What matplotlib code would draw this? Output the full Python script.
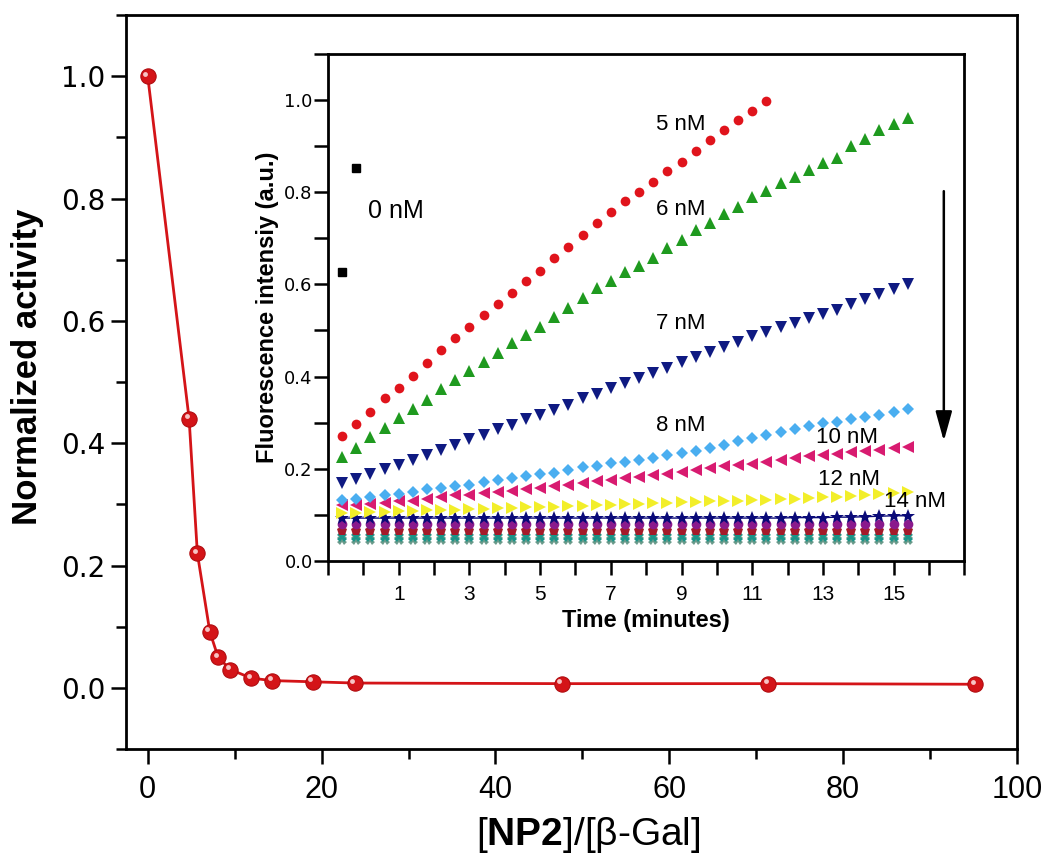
import matplotlib
matplotlib.use('Agg')
import matplotlib.pyplot as plt
from matplotlib.transforms import offset_copy
from matplotlib.ticker import MultipleLocator, FixedLocator

plt.rcParams['font.family'] = 'Liberation Sans'
plt.rcParams['mathtext.fontset'] = 'custom'
plt.rcParams['mathtext.rm'] = 'Liberation Sans'
plt.rcParams['mathtext.bf'] = 'Liberation Sans:bold'

# main plot: normalized activity vs [NP2]/[b-Gal]
ratio = [0, 4.76, 5.71, 7.14, 8.1, 9.52, 11.9, 14.3, 19.0, 23.8, 47.6, 71.4, 95.2]
activity = [1.0, 0.44, 0.22, 0.092, 0.05, 0.03, 0.016, 0.012, 0.01, 0.008, 0.007, 0.007, 0.006]

# inset: fluorescence vs time
time = [-0.6, -0.2, 0.2, 0.6, 1.0, 1.4, 1.8, 2.2, 2.6, 3.0,
        3.4, 3.8, 4.2, 4.6, 5.0, 5.4, 5.8, 6.2, 6.6, 7.0,
        7.4, 7.8, 8.2, 8.6, 9.0, 9.4, 9.8, 10.2, 10.6, 11.0,
        11.4, 11.8, 12.2, 12.6, 13.0, 13.4, 13.8, 14.2, 14.6, 15.0,
        15.4]
f_0nM = [0.626, 0.853]
f_5nM = [0.272, 0.298, 0.324, 0.353, 0.376, 0.402, 0.430, 0.457, 0.483, 0.508,
         0.533, 0.558, 0.581, 0.607, 0.629, 0.657, 0.681, 0.707, 0.734, 0.757,
         0.781, 0.800, 0.822, 0.846, 0.866, 0.890, 0.914, 0.935, 0.956, 0.975,
         0.997]
f_6nM = [0.226, 0.246, 0.268, 0.288, 0.311, 0.329, 0.350, 0.373, 0.392, 0.411,
         0.432, 0.451, 0.472, 0.490, 0.508, 0.528, 0.548, 0.570, 0.591, 0.607,
         0.627, 0.640, 0.658, 0.678, 0.696, 0.717, 0.734, 0.753, 0.768, 0.790,
         0.802, 0.819, 0.833, 0.847, 0.862, 0.874, 0.900, 0.916, 0.935, 0.948,
         0.961]
f_7nM = [0.168, 0.178, 0.189, 0.199, 0.209, 0.219, 0.230, 0.241, 0.252, 0.264,
         0.274, 0.286, 0.295, 0.308, 0.317, 0.328, 0.339, 0.353, 0.362, 0.375,
         0.386, 0.396, 0.407, 0.418, 0.431, 0.443, 0.453, 0.464, 0.475, 0.488,
         0.496, 0.508, 0.516, 0.527, 0.535, 0.545, 0.557, 0.569, 0.579, 0.589,
         0.600]
f_8nM = [0.133, 0.134, 0.138, 0.142, 0.145, 0.149, 0.155, 0.158, 0.162, 0.165,
         0.171, 0.175, 0.179, 0.184, 0.189, 0.191, 0.198, 0.203, 0.207, 0.212,
         0.215, 0.220, 0.224, 0.230, 0.234, 0.239, 0.245, 0.251, 0.261, 0.266,
         0.273, 0.280, 0.286, 0.292, 0.299, 0.302, 0.308, 0.313, 0.316, 0.322,
         0.329]
f_10nM = [0.122, 0.122, 0.124, 0.126, 0.129, 0.131, 0.134, 0.138, 0.142, 0.144,
          0.147, 0.149, 0.152, 0.156, 0.159, 0.163, 0.165, 0.168, 0.173, 0.176,
          0.179, 0.183, 0.186, 0.189, 0.192, 0.198, 0.201, 0.205, 0.208, 0.210,
          0.214, 0.220, 0.223, 0.228, 0.230, 0.232, 0.236, 0.239, 0.241, 0.244,
          0.248]
f_12nM = [0.105, 0.105, 0.106, 0.107, 0.108, 0.109, 0.110, 0.110, 0.111, 0.112,
          0.113, 0.114, 0.115, 0.116, 0.117, 0.118, 0.119, 0.120, 0.121, 0.122,
          0.123, 0.124, 0.125, 0.126, 0.127, 0.128, 0.129, 0.130, 0.131, 0.132,
          0.133, 0.134, 0.135, 0.137, 0.138, 0.139, 0.141, 0.143, 0.145, 0.147,
          0.149]
f_14nM = [0.093, 0.093, 0.093, 0.093, 0.093, 0.093, 0.093, 0.093, 0.093, 0.093,
          0.093, 0.093, 0.093, 0.093, 0.093, 0.093, 0.093, 0.093, 0.093, 0.093,
          0.093, 0.093, 0.093, 0.093, 0.093, 0.093, 0.093, 0.093, 0.093, 0.093,
          0.093, 0.093, 0.094, 0.094, 0.094, 0.095, 0.095, 0.096, 0.097, 0.098,
          0.098]
f_16nM = [0.080, 0.080, 0.080, 0.080, 0.080, 0.080, 0.080, 0.080, 0.080, 0.080,
          0.080, 0.080, 0.080, 0.080, 0.080, 0.080, 0.080, 0.080, 0.080, 0.080,
          0.080, 0.080, 0.080, 0.080, 0.080, 0.080, 0.080, 0.080, 0.080, 0.080,
          0.080, 0.080, 0.080, 0.080, 0.080, 0.080, 0.080, 0.080, 0.080, 0.080,
          0.080]
f_18nM = [0.066, 0.066, 0.066, 0.066, 0.066, 0.066, 0.066, 0.066, 0.066, 0.066,
          0.066, 0.066, 0.066, 0.066, 0.066, 0.066, 0.066, 0.066, 0.066, 0.066,
          0.066, 0.066, 0.066, 0.066, 0.066, 0.066, 0.066, 0.066, 0.066, 0.066,
          0.066, 0.066, 0.066, 0.066, 0.066, 0.066, 0.066, 0.066, 0.066, 0.066,
          0.066]
f_20nM = [0.053, 0.053, 0.053, 0.053, 0.053, 0.053, 0.053, 0.053, 0.053, 0.053,
          0.053, 0.053, 0.053, 0.053, 0.053, 0.053, 0.053, 0.053, 0.053, 0.053,
          0.053, 0.053, 0.053, 0.053, 0.053, 0.053, 0.053, 0.053, 0.053, 0.053,
          0.053, 0.053, 0.053, 0.053, 0.053, 0.053, 0.053, 0.053, 0.053, 0.053,
          0.053]
f_24nM = [0.045, 0.045, 0.045, 0.045, 0.045, 0.045, 0.045, 0.045, 0.045, 0.045,
          0.045, 0.045, 0.045, 0.045, 0.045, 0.045, 0.045, 0.045, 0.045, 0.045,
          0.045, 0.045, 0.045, 0.045, 0.045, 0.045, 0.045, 0.045, 0.045, 0.045,
          0.045, 0.045, 0.045, 0.045, 0.045, 0.045, 0.045, 0.045, 0.045, 0.045,
          0.045]

fig = plt.figure(figsize=(10.5, 8.67), dpi=100)
ax = fig.add_axes([0.12, 0.136, 0.8486, 0.8466])

ax.plot(ratio, activity, '-', color='#d41418', lw=2, zorder=2)
ax.plot(ratio, activity, 'o', color='#d41418', ms=11, mec='#b00c10', mew=0.8, zorder=3)
hl = offset_copy(ax.transData, fig=fig, x=-2.5, y=2.5, units='dots')
ax.plot(ratio, activity, 'o', color='#f7c4c4', ms=3.5, mew=0, transform=hl, zorder=4)

ax.set_xlim(-2.5, 100)
ax.set_ylim(-0.1, 1.1)
ax.xaxis.set_major_locator(MultipleLocator(20))
ax.xaxis.set_minor_locator(MultipleLocator(10))
ax.yaxis.set_major_locator(FixedLocator([0.0, 0.2, 0.4, 0.6, 0.8, 1.0]))
ax.yaxis.set_minor_locator(MultipleLocator(0.1))
ax.tick_params(which='major', direction='out', length=11, width=1.8)
ax.tick_params(which='minor', direction='out', length=7, width=1.8)
ax.tick_params(axis='x', labelsize=22, pad=8)
ax.tick_params(axis='y', labelsize=20, pad=4)
for lab in ax.get_yticklabels():
    lab.set_fontfamily('DejaVu Sans')
ax.set_yticks([0.0, 0.2, 0.4, 0.6, 0.8, 1.0])
ax.set_yticklabels(['0.0', '0.2', '0.4', '0.6', '0.8', '1.0'], fontfamily='DejaVu Sans')
for sp in ax.spines.values():
    sp.set_linewidth(2)

fig.text(0.026, 0.577, 'Normalized activity', rotation=90, ha='center', va='center',
         fontsize=25, fontweight='bold')
fig.text(0.56, 0.037, r'[$\mathbf{NP2}$]/[β-Gal]', ha='center', va='center', fontsize=28)

# inset
ins = fig.add_axes([0.3124, 0.353, 0.606, 0.585])
ins.set_facecolor('white')
ins.plot(time[:2], f_0nM, 's', color='black', ms=5.5)
ins.plot(time[:31], f_5nM, 'o', color='#e0141c', ms=7, mew=0)
ins.plot(time, f_6nM, '^', color='#1f9a1f', ms=8, mew=0)
ins.plot(time, f_7nM, 'v', color='#0f1a82', ms=8, mew=0)
ins.plot(time, f_24nM, 'X', color='#6a9a8a', ms=7, mew=0)
ins.plot(time, f_20nM, 'X', color='#1a9488', ms=7, mew=0)
ins.plot(time, f_18nM, 'p', color='#a31a2a', ms=7, mew=0)
ins.plot(time, f_16nM, 'o', color='#8a1a8c', ms=7, mew=0)
ins.plot(time, f_14nM, '-', color='#0a0a78', lw=1)
ins.plot(time, f_14nM, '*', color='#0a0a78', ms=10, mew=0)
ins.plot(time, f_12nM, '>', color='#f2ee2a', ms=8, mew=0)
ins.plot(time, f_10nM, '<', color='#d81b70', ms=8, mew=0)
ins.plot(time, f_8nM, 'D', color='#4aaef0', ms=6.5, mew=0)

ins.set_xlim(-1, 17)
ins.set_ylim(0, 1.1)
ins.xaxis.set_major_locator(FixedLocator([1, 3, 5, 7, 9, 11, 13, 15]))
ins.xaxis.set_minor_locator(MultipleLocator(1))
ins.yaxis.set_major_locator(FixedLocator([0.0, 0.2, 0.4, 0.6, 0.8, 1.0]))
ins.yaxis.set_minor_locator(MultipleLocator(0.1))
ins.tick_params(which='both', direction='out', length=10, width=1.8)
ins.tick_params(axis='x', labelsize=15, pad=7)
ins.tick_params(axis='y', labelsize=13, pad=1)
ins.set_yticks([0.0, 0.2, 0.4, 0.6, 0.8, 1.0])
ins.set_yticklabels(['0.0', '0.2', '0.4', '0.6', '0.8', '1.0'], fontfamily='DejaVu Sans')
for sp in ins.spines.values():
    sp.set_linewidth(2)
ins.set_xlabel('Time (minutes)', fontsize=17, fontweight='bold', labelpad=4)
ins.set_ylabel('Fluorescence intensiy (a.u.)', fontsize=17, fontweight='bold', labelpad=4)

ins.text(8.97, 0.947, '5 nM', fontsize=16, ha='center', va='center')
ins.text(8.97, 0.763, '6 nM', fontsize=16, ha='center', va='center')
ins.text(8.97, 0.514, '7 nM', fontsize=16, ha='center', va='center')
ins.text(8.97, 0.293, '8 nM', fontsize=16, ha='center', va='center')
ins.text(13.67, 0.267, '10 nM', fontsize=16, ha='center', va='center')
ins.text(13.73, 0.176, '12 nM', fontsize=16, ha='center', va='center')
ins.text(15.6, 0.128, '14 nM', fontsize=16, ha='center', va='center')
ins.text(0.93, 0.758, '0 nM', fontsize=18, ha='center', va='center')
ins.annotate('', xy=(16.42, 0.254), xytext=(16.42, 0.808),
             arrowprops=dict(arrowstyle='-|>,head_length=0.9,head_width=0.25',
                             color='black', lw=1.8, mutation_scale=20))

fig.savefig('out.png', dpi=100, facecolor='white')
